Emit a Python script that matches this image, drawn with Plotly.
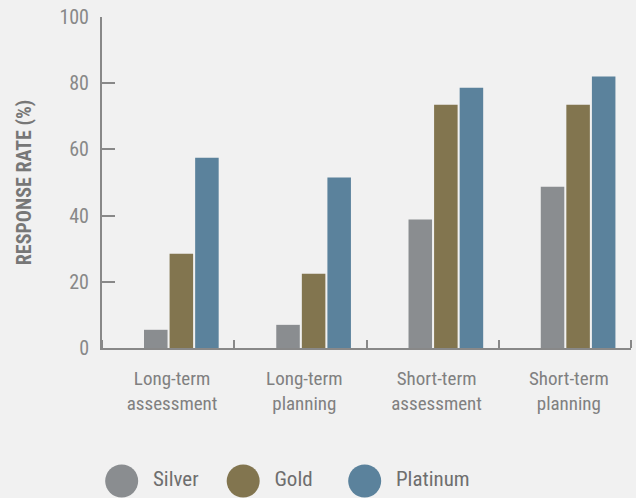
import plotly.graph_objects as go

categories = ["Long-term<br>assessment", "Long-term<br>planning", "Short-term<br>assessment", "Short-term<br>planning"]
series_names = ["Silver", "Gold", "Platinum"]
silver = [5.5, 7.0, 38.8, 48.7]
gold = [28.5, 22.4, 73.5, 73.5]
platinum = [57.5, 51.5, 78.6, 82.0]
colors = ["#8a8d90", "#82754f", "#5b829c"]
y_ticks = [0, 20, 40, 60, 80, 100]

FONT = "Roboto Condensed, DejaVu Sans Condensed, sans-serif"
AX = "#888888"
BG = "#f1f1f1"

n = len(categories)
bar_x = [i + 0.6 for i in range(n)]
label_x = [i + 0.53 for i in range(n)]

fig = go.Figure()
for name, vals, col in zip(series_names, [silver, gold, platinum], colors):
    fig.add_trace(go.Bar(x=bar_x, y=vals, name=name, marker=dict(color=col, line=dict(width=0)),
                         showlegend=False, xaxis="x", yaxis="y"))

# custom legend with large circles on an auxiliary axis
fig.add_trace(go.Scatter(
    x=list(range(len(series_names))), y=[0] * len(series_names),
    mode="markers+text", text=["  " + s for s in series_names], textposition="middle right",
    marker=dict(size=33, color=colors, line=dict(width=0)),
    textfont=dict(family=FONT, size=21, color="#6e6e6e"),
    showlegend=False, hoverinfo="skip", xaxis="x2", yaxis="y2", cliponaxis=False))

fig.update_layout(
    width=636, height=498,
    margin=dict(l=102, r=5, t=17, b=5, autoexpand=False),
    paper_bgcolor=BG, plot_bgcolor=BG,
    barmode="group", bargap=0.42, bargroupgap=0.08,
    showlegend=False,
    font=dict(family=FONT, color=AX),
    xaxis=dict(
        range=[0, n], domain=[0, 1], anchor="y", automargin=False,
        showline=True, linecolor=AX, linewidth=2,
        showgrid=False, zeroline=False,
        tickmode="array", tickvals=label_x, ticktext=categories, ticks="",
        tickfont=dict(family=FONT, size=19, color="#808080"),
        ticklabelstandoff=12,
        minor=dict(tickmode="array", tickvals=list(range(n + 1)), ticks="inside",
                   ticklen=8, tickwidth=2, tickcolor=AX, showgrid=False),
    ),
    yaxis=dict(
        range=[0, 100], domain=[0.3046, 1], anchor="x", automargin=False,
        showline=True, linecolor=AX, linewidth=2,
        showgrid=False, zeroline=False,
        tickmode="array", tickvals=y_ticks, ticks="inside", ticklen=13, tickwidth=2, tickcolor=AX,
        tickfont=dict(family=FONT, size=20, color=AX),
        ticklabelstandoff=7,
        title=dict(text="<b>RESPONSE RATE (%)</b>", standoff=22,
                   font=dict(family=FONT, size=20, color="#777777")),
    ),
    xaxis2=dict(range=[-0.162, 4.192], domain=[0, 1], anchor="y2", visible=False),
    yaxis2=dict(range=[-1, 1], domain=[0, 0.0504], anchor="x2", visible=False),
)

fig.write_html("out.html", config={"displayModeBar": False},
               post_script="document.body.style.margin='0';document.body.style.background='#f1f1f1';")
